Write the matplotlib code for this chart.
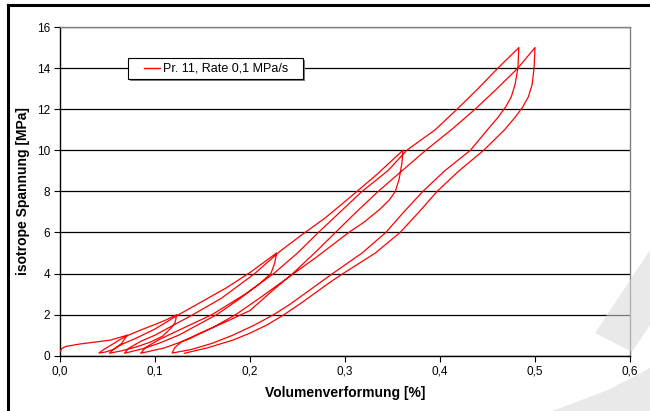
import matplotlib.pyplot as plt
from matplotlib.patches import Polygon, Rectangle
from matplotlib.lines import Line2D

plt.rcParams['font.family'] = ['Liberation Sans', 'DejaVu Sans']

# loading / unloading branches of the test, in order (strain %, stress MPa)
virgin_x = [0.0, 0.002, 0.006, 0.021, 0.053, 0.071]
virgin_y = [0.2, 0.35, 0.45, 0.57, 0.76, 1.0]

# cycle to 1 MPa
unload1_x = [0.071, 0.068, 0.065, 0.056, 0.048, 0.041]
unload1_y = [1.0, 0.82, 0.6, 0.3, 0.18, 0.13]
reload1_x = [0.041, 0.046, 0.055, 0.063, 0.071, 0.085, 0.100, 0.112, 0.123]
reload1_y = [0.13, 0.3, 0.55, 0.78, 0.98, 1.25, 1.52, 1.75, 2.0]

# cycle to 2 MPa
unload2_x = [0.123, 0.121, 0.117, 0.108, 0.095, 0.080, 0.065, 0.052]
unload2_y = [2.0, 1.6, 1.35, 0.95, 0.66, 0.42, 0.24, 0.12]
reload2_x = [0.052, 0.056, 0.065, 0.080, 0.100, 0.125, 0.150, 0.175, 0.200, 0.228]
reload2_y = [0.12, 0.3, 0.55, 0.85, 1.3, 2.0, 2.65, 3.3, 4.05, 5.0]

# cycle to 5 MPa
unload3_x = [0.228, 0.226, 0.222, 0.210, 0.190, 0.165, 0.145, 0.125, 0.105, 0.088, 0.068]
unload3_y = [5.0, 4.5, 4.0, 3.5, 2.8, 2.0, 1.5, 1.0, 0.62, 0.35, 0.12]
reload3_x = [0.068, 0.072, 0.085, 0.100, 0.120, 0.140, 0.170, 0.205, 0.232, 0.255, 0.279, 0.305, 0.333, 0.361]
reload3_y = [0.12, 0.35, 0.7, 1.0, 1.5, 2.0, 2.8, 4.0, 5.1, 5.9, 6.7, 7.7, 8.8, 10.0]

# cycle to 10 MPa
unload4_x = [0.361, 0.360, 0.357, 0.353, 0.347, 0.336, 0.320, 0.304, 0.270, 0.240, 0.210, 0.185, 0.160, 0.135, 0.110, 0.085]
unload4_y = [10.0, 9.4, 8.6, 8.0, 7.6, 7.1, 6.5, 6.0, 4.8, 3.8, 2.8, 2.0, 1.35, 0.8, 0.38, 0.12]
reload4_x = [0.085, 0.090, 0.105, 0.130, 0.160, 0.195, 0.225, 0.250, 0.272, 0.295, 0.318, 0.345, 0.365, 0.395, 0.418, 0.440, 0.461, 0.483]
reload4_y = [0.12, 0.4, 0.8, 1.35, 2.0, 3.0, 4.0, 5.0, 6.0, 7.0, 8.0, 9.0, 10.0, 11.0, 12.0, 13.0, 14.0, 15.0]

# first cycle to 15 MPa
unload5_x = [0.483, 0.482, 0.479, 0.475, 0.469, 0.461, 0.450, 0.432, 0.405, 0.382, 0.362, 0.343, 0.318, 0.287, 0.263, 0.242, 0.225, 0.205, 0.182, 0.160, 0.138, 0.118]
unload5_y = [15.0, 14.0, 13.2, 12.6, 12.1, 11.6, 11.0, 10.0, 9.0, 8.0, 7.0, 6.0, 5.0, 4.0, 3.2, 2.5, 2.0, 1.5, 1.0, 0.6, 0.3, 0.13]
reload5_x = [0.118, 0.121, 0.128, 0.147, 0.175, 0.200, 0.222, 0.245, 0.268, 0.290, 0.312, 0.335, 0.360, 0.385, 0.412, 0.437, 0.460, 0.482, 0.500]
reload5_y = [0.13, 0.4, 0.68, 1.09, 1.66, 2.2, 3.1, 4.0, 5.0, 6.0, 7.0, 8.0, 9.0, 10.0, 11.0, 12.0, 13.0, 14.0, 15.0]

# second cycle to 15 MPa
unload6_x = [0.500, 0.499, 0.497, 0.493, 0.487, 0.479, 0.468, 0.446, 0.420, 0.397, 0.378, 0.358, 0.332, 0.298, 0.285, 0.267, 0.255, 0.236, 0.218, 0.200, 0.182, 0.155, 0.131]
unload6_y = [15.0, 14.0, 13.2, 12.6, 12.1, 11.6, 11.0, 10.0, 9.0, 8.0, 7.0, 6.0, 5.0, 4.0, 3.6, 3.0, 2.6, 2.0, 1.5, 1.1, 0.76, 0.38, 0.12]

branches = [
    (virgin_x, virgin_y),
    (unload1_x, unload1_y), (reload1_x, reload1_y),
    (unload2_x, unload2_y), (reload2_x, reload2_y),
    (unload3_x, unload3_y), (reload3_x, reload3_y),
    (unload4_x, unload4_y), (reload4_x, reload4_y),
    (unload5_x, unload5_y), (reload5_x, reload5_y),
    (unload6_x, unload6_y),
]

x_ticks = [0.0, 0.1, 0.2, 0.3, 0.4, 0.5, 0.6]
x_labels = ['0,0', '0,1', '0,2', '0,3', '0,4', '0,5', '0,6']
y_ticks = [0, 2, 4, 6, 8, 10, 12, 14, 16]
legend_label = 'Pr. 11, Rate 0,1 MPa/s'

W, H = 650, 411
fig = plt.figure(figsize=(W / 100, H / 100), dpi=100)
ax = fig.add_axes([60 / W, 55.3 / H, 570 / W, 328.7 / H])

xs, ys = [], []
for bx, by in branches:
    xs += bx
    ys += by
ax.plot(xs, ys, color='#ff0000', lw=0.9, zorder=3)

ax.set_xlim(0, 0.6)
ax.set_ylim(0, 16)
ax.set_xticks(x_ticks)
ax.set_xticklabels(x_labels)
ax.set_yticks(y_ticks)
ax.tick_params(labelsize=8.5, length=4, width=0.8, colors='black', pad=3)
ax.yaxis.grid(True, color='black', lw=0.9)
ax.set_axisbelow(True)

for side in ['top', 'right']:
    ax.spines[side].set_color('#808080')
    ax.spines[side].set_linewidth(1.0)
for side in ['left', 'bottom']:
    ax.spines[side].set_color('black')
    ax.spines[side].set_linewidth(1.0)

ax.set_xlabel('Volumenverformung [%]', fontsize=10, fontweight='bold', labelpad=6)
ax.set_ylabel('isotrope Spannung [MPa]', fontsize=10, fontweight='bold', labelpad=5)


def px(pts):
    # pixel positions (from top-left) -> figure fraction
    return [(x / W, 1 - y / H) for x, y in pts]


# legend box in Excel style: shadow, white box, short line, label
fig.add_artist(Rectangle((130 / W, 1 - 81 / H), 175 / W, 21 / H, transform=fig.transFigure,
                         facecolor='#808080', edgecolor='none', zorder=5))
fig.add_artist(Rectangle((128 / W, 1 - 79 / H), 175 / W, 21 / H, transform=fig.transFigure,
                         facecolor='white', edgecolor='black', lw=0.8, zorder=6))
fig.add_artist(Line2D([144 / W, 160 / W], [1 - 68.5 / H, 1 - 68.5 / H], color='#ff0000', lw=1.0, zorder=7))
fig.text(163 / W, 1 - 68.5 / H, legend_label, fontsize=9, va='center', ha='left', zorder=7)

# page frame
fig.add_artist(Line2D([8 / W, 1], [1 - 5 / H, 1 - 5 / H], color='black', lw=2.2))
fig.add_artist(Line2D([8 / W, 8 / W], [0, 1 - 5 / H], color='black', lw=2.2))

# grey watermark stripes in the lower right corner
fig.add_artist(Polygon(px([(595, 333), (650, 250), (650, 325), (632, 352)]),
                       closed=True, facecolor='#d8d8d8', edgecolor='none', alpha=0.55, zorder=10))
fig.add_artist(Polygon(px([(552, 411), (608, 390), (650, 368), (650, 411)]),
                       closed=True, facecolor='#d8d8d8', edgecolor='none', alpha=0.55, zorder=10))

fig.savefig('out.png', dpi=100)
